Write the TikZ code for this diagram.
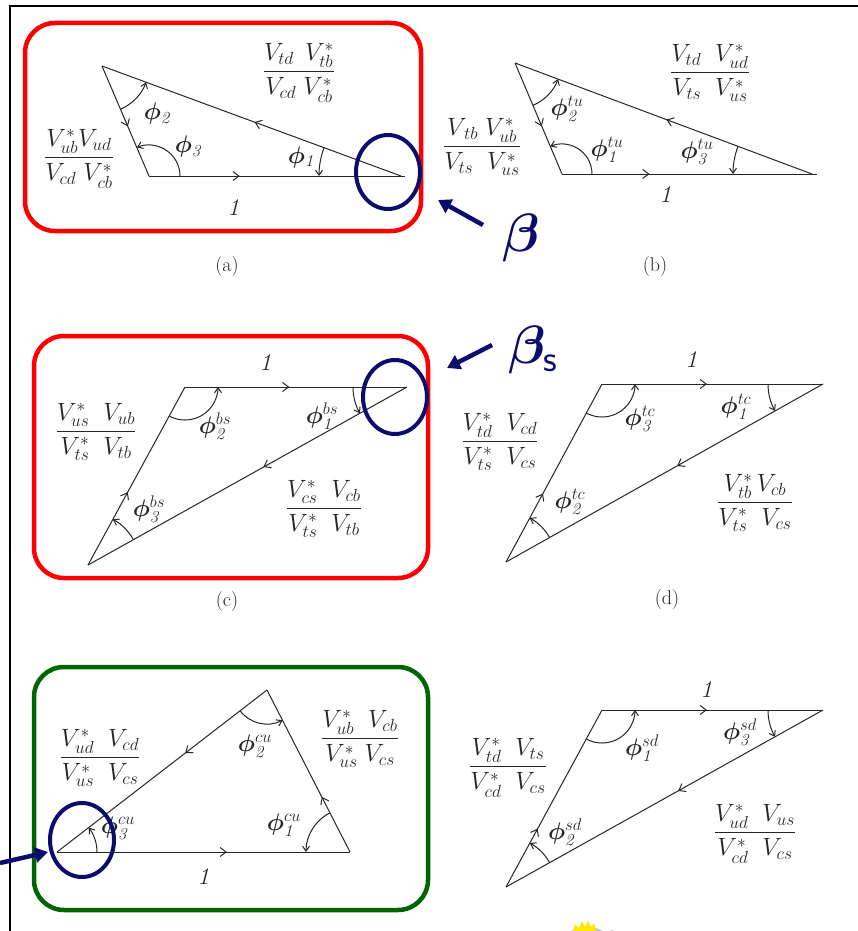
\RequirePackage{fix-cm}
\documentclass[tikz,border=0pt]{standalone}
\usepackage{amsmath,bm}
\usetikzlibrary{arrows.meta,decorations.markings,calc,shapes.geometric}
\definecolor{navyc}{RGB}{12,12,110}
\definecolor{redc}{RGB}{255,0,0}
\definecolor{greenc}{RGB}{0,100,0}
\tikzset{
  edge/.style={draw=black!85,line width=1pt},
  midarrow/.style={decoration={markings,mark=at position #1 with {\arrow{Straight Barb[length=6pt,width=9pt]}}},postaction={decorate}},
  angarcst/.style={draw=black!85,line width=1pt,-{Straight Barb[length=5pt,width=7pt]}},
  lbl/.style={text=black!85,inner sep=0pt,font=\fontsize{24}{28}\selectfont},
  fracst/.style={text=black!85,inner sep=0pt,font=\fontsize{25}{30}\selectfont},
  sublbl/.style={text=black!85,inner sep=0pt,font=\fontsize{20}{24}\selectfont},
  boxst/.style={line width=4.5pt,rounded corners=30pt},
  ring/.style={draw=navyc,line width=4pt,ellipse,minimum width=64pt,minimum height=74pt,inner sep=0pt},
  pointer/.style={draw=navyc,line width=4.5pt,-{Triangle[length=13pt,width=15pt]}},
  greek/.style={text=navyc,inner sep=0pt,font=\fontsize{54}{60}\selectfont},
}
\newcommand{\angarc}[4]{\draw[angarcst] ($(#1)+(#2:#4)$) arc[start angle=#2,end angle=#3,radius=#4];}
\begin{document}
\begin{tikzpicture}[x=1pt,y=-1pt]
\useasboundingbox (0,0) rectangle (858,931);
% frame
\coordinate (fr1) at (10,931); \coordinate (fr2) at (10,6); \coordinate (fr3) at (858,6);
\draw[line width=1.6pt] (fr1) -- (fr2) -- (fr3);
% boxes
\draw[boxst,draw=redc] (25,23) rectangle (421,231);
\draw[boxst,draw=redc] (34,336) rectangle (428,578);
\draw[boxst,draw=greenc] (34,667) rectangle (428,910);

% ---------- panel (a)
\coordinate (A1) at (149,176); \coordinate (A2) at (401,176); \coordinate (A3) at (102,66);
\draw[edge,midarrow=0.36,shorten >=-4pt] (A1) -- (A2);
\draw[edge,midarrow=0.49] (A2) -- (A3);
\draw[edge,midarrow=0.55] (A3) -- (A1);
\angarc{A3}{66.9}{20.2}{47}
\angarc{A1}{0}{-113.1}{31}
\angarc{A2}{200.2}{180}{82}
\node[lbl] (ap2) at (158,114) {$\bm{\phi}_{\mathit{2}}$};
\node[lbl] (ap3) at (189,147) {$\bm{\phi}_{\mathit{3}}$};
\node[lbl] (ap1) at (302,157) {$\bm{\phi}_{\mathit{1}}$};
\node[lbl] (aone) at (235,208) {$\mathit{1}$};
\node[fracst] (af1) at (299,73) {$\dfrac{V_{td}\;\,V_{tb}^*}{V_{cd}\;V_{cb}^*}$};
\node[fracst] (af2) at (79,159) {$\dfrac{V_{ub}^*V_{ud}}{V_{cd}\;V_{cb}^*}$};
\node[sublbl] (acap) at (227,267) {(a)};

% ---------- panel (b)
\coordinate (B1) at (562,174); \coordinate (B2) at (812,174); \coordinate (B3) at (515,63);
\draw[edge,midarrow=0.35,shorten >=-5pt] (B1) -- (B2);
\draw[edge,midarrow=0.49] (B2) -- (B3);
\draw[edge,midarrow=0.57] (B3) -- (B1);
\angarc{B3}{67.05}{20.5}{46}
\angarc{B1}{0}{-112.95}{30}
\angarc{B2}{200.5}{180}{79}
\node[lbl] (bp2) at (567,109) {$\bm{\phi}^{tu}_{\mathit{2}}$};
\node[lbl] (bp1) at (607,150) {$\bm{\phi}^{tu}_{\mathit{1}}$};
\node[lbl] (bp3) at (697,152) {$\bm{\phi}^{tu}_{\mathit{3}}$};
\node[lbl] (bone) at (667,195) {$\mathit{1}$};
\node[fracst] (bf1) at (710,73) {$\dfrac{V_{td}\;\;V_{ud}^*}{V_{ts}\;\;V_{us}^*}$};
\node[fracst] (bf2) at (482,147) {$\dfrac{V_{\,tb}\;V_{ub}^*}{V_{ts}\;\;V_{us}^*}$};
\node[sublbl] (bcap) at (655,267) {(b)};

% ---------- panel (c)
\coordinate (C1) at (185,387); \coordinate (C2) at (407,387); \coordinate (C3) at (88,565);
\draw[edge,midarrow=0.47] (C1) -- (C2);
\draw[edge,midarrow=0.45] (C2) -- (C3);
\draw[edge,midarrow=0.41] (C3) -- (C1);
\angarc{C1}{118.6}{0}{33}
\angarc{C2}{180}{150.8}{54}
\angarc{C3}{-29.2}{-61.4}{52}
\node[lbl] (cp2) at (215,426) {$\bm{\phi}^{bs}_{\mathit{2}}$};
\node[lbl] (cp1) at (322,416) {$\bm{\phi}^{bs}_{\mathit{1}}$};
\node[lbl] (cp3) at (149,509) {$\bm{\phi}^{bs}_{\mathit{3}}$};
\node[lbl] (cone) at (267,363) {$\mathit{1}$};
\node[fracst] (cf1) at (96,432) {$\dfrac{V_{us}^*\;\;V_{ub}}{V_{ts}^*\;\;V_{tb}}$};
\node[fracst] (cf2) at (324,509) {$\dfrac{V_{cs}^*\;\;V_{cb}}{V_{ts}^*\;\;V_{tb}}$};
\node[sublbl] (ccap) at (227,602) {(c)};

% ---------- panel (d)
\coordinate (D1) at (602,384); \coordinate (D2) at (823,384); \coordinate (D3) at (506,562);
\draw[edge,midarrow=0.475] (D1) -- (D2);
\draw[edge,midarrow=0.46] (D2) -- (D3);
\draw[edge,midarrow=0.385] (D3) -- (D1);
\angarc{D1}{118.3}{0}{33}
\angarc{D2}{180}{150.7}{55}
\angarc{D3}{-29.3}{-61.7}{50}
\node[lbl] (dp3) at (640,419) {$\bm{\phi}^{tc}_{\mathit{3}}$};
\node[lbl] (dp1) at (736,407) {$\bm{\phi}^{tc}_{\mathit{1}}$};
\node[lbl] (dp2) at (570,502) {$\bm{\phi}^{tc}_{\mathit{2}}$};
\node[lbl] (done) at (693,360) {$\mathit{1}$};
\node[fracst] (df1) at (500,442) {$\dfrac{V_{td}^*\;\;V_{cd}}{V_{ts}^*\;\;V_{cs}}$};
\node[fracst] (df2) at (755,503) {$\dfrac{V_{tb}^*\,V_{cb}}{V_{ts}^*\;\;V_{cs}}$};
\node[sublbl] (dcap) at (667,600) {(d)};

% ---------- panel (e)
\coordinate (E1) at (57,852); \coordinate (E2) at (350,852); \coordinate (E3) at (267,690);
\draw[edge,midarrow=0.58] (E1) -- (E2);
\draw[edge,midarrow=0.34] (E2) -- (E3);
\draw[edge,midarrow=0.39] (E3) -- (E1);
\angarc{E3}{142.35}{62.87}{34}
\angarc{E2}{242.87}{180}{44}
\angarc{E1}{0}{-37.65}{40}
\node[lbl] (ep2) at (255,746) {$\bm{\phi}^{cu}_{\mathit{2}}$};
\node[lbl] (ep1) at (284,825) {$\bm{\phi}^{cu}_{\mathit{1}}$};
\node[lbl] (ep3) at (118,828) {$\bm{\phi}^{cu}_{\mathit{3}}$};
\node[lbl] (eone) at (205,877) {$\mathit{1}$};
\node[fracst] (ef1) at (100,758) {$\dfrac{V_{ud}^*\;\;V_{cd}}{V_{us}^*\;\;V_{cs}}$};
\node[fracst] (ef2) at (360,739) {$\dfrac{V_{ub}^*\;\;V_{cb}}{V_{us}^*\;V_{cs}}$};

% ---------- panel (f)
\coordinate (F1) at (602,710); \coordinate (F2) at (823,710); \coordinate (F3) at (506,887);
\draw[edge,midarrow=0.475] (F1) -- (F2);
\draw[edge,midarrow=0.457] (F2) -- (F3);
\draw[edge,midarrow=0.33] (F3) -- (F1);
\angarc{F1}{118.5}{0}{33}
\angarc{F2}{180}{150.8}{55}
\angarc{F3}{-29.2}{-61.5}{50}
\node[lbl] (fp1) at (642,748) {$\bm{\phi}^{sd}_{\mathit{1}}$};
\node[lbl] (fp3) at (740,732) {$\bm{\phi}^{sd}_{\mathit{3}}$};
\node[lbl] (fp2) at (565,832) {$\bm{\phi}^{sd}_{\mathit{2}}$};
\node[lbl] (fone) at (708,690) {$\mathit{1}$};
\node[fracst] (ff1) at (508,768) {$\dfrac{V_{td}^*\;\;V_{ts}}{V_{cd}^*\;\;V_{cs}}$};
\node[fracst] (ff2) at (755,834) {$\dfrac{V_{ud}^*\;\;V_{us}}{V_{cd}^*\;\;V_{cs}}$};

% ---------- highlight rings and pointers
\node[ring] (ra) at (388,172) {};
\node[ring] (rc) at (395,397) {};
\node[ring] (re) at (82,840) {};
\node[greek] (beta) at (521,238) {$\bm{\beta}$};
\node[greek] (betas) at (533,350) {$\bm{\beta}_{\textsf{s}}$};
\coordinate (pb1) at (483,225); \coordinate (pb2) at (438,200);
\coordinate (pd1) at (492,345); \coordinate (pd2) at (447,368);
\coordinate (pe1) at (0,863); \coordinate (pe2) at (48,852);
\draw[pointer] (pb1) -- (pb2);
\draw[pointer] (pd1) -- (pd2);
\draw[pointer] (pe1) -- (pe2);

% ---------- clipped clip-art fragment at the bottom
\begin{scope}
\clip (0,0) rectangle (858,931);
\fill[gray!45] (587,937) ellipse [x radius=20, y radius=10];
\fill[yellow!90!orange] (573,932) -- (575,924) -- (579,928) -- (582,921) -- (585,927) -- (588,921) -- (591,927) -- (594,923) -- (596,932) -- cycle;
\fill[gray!45] (612,933) circle [radius=3];
\end{scope}
\end{tikzpicture}
\end{document}
